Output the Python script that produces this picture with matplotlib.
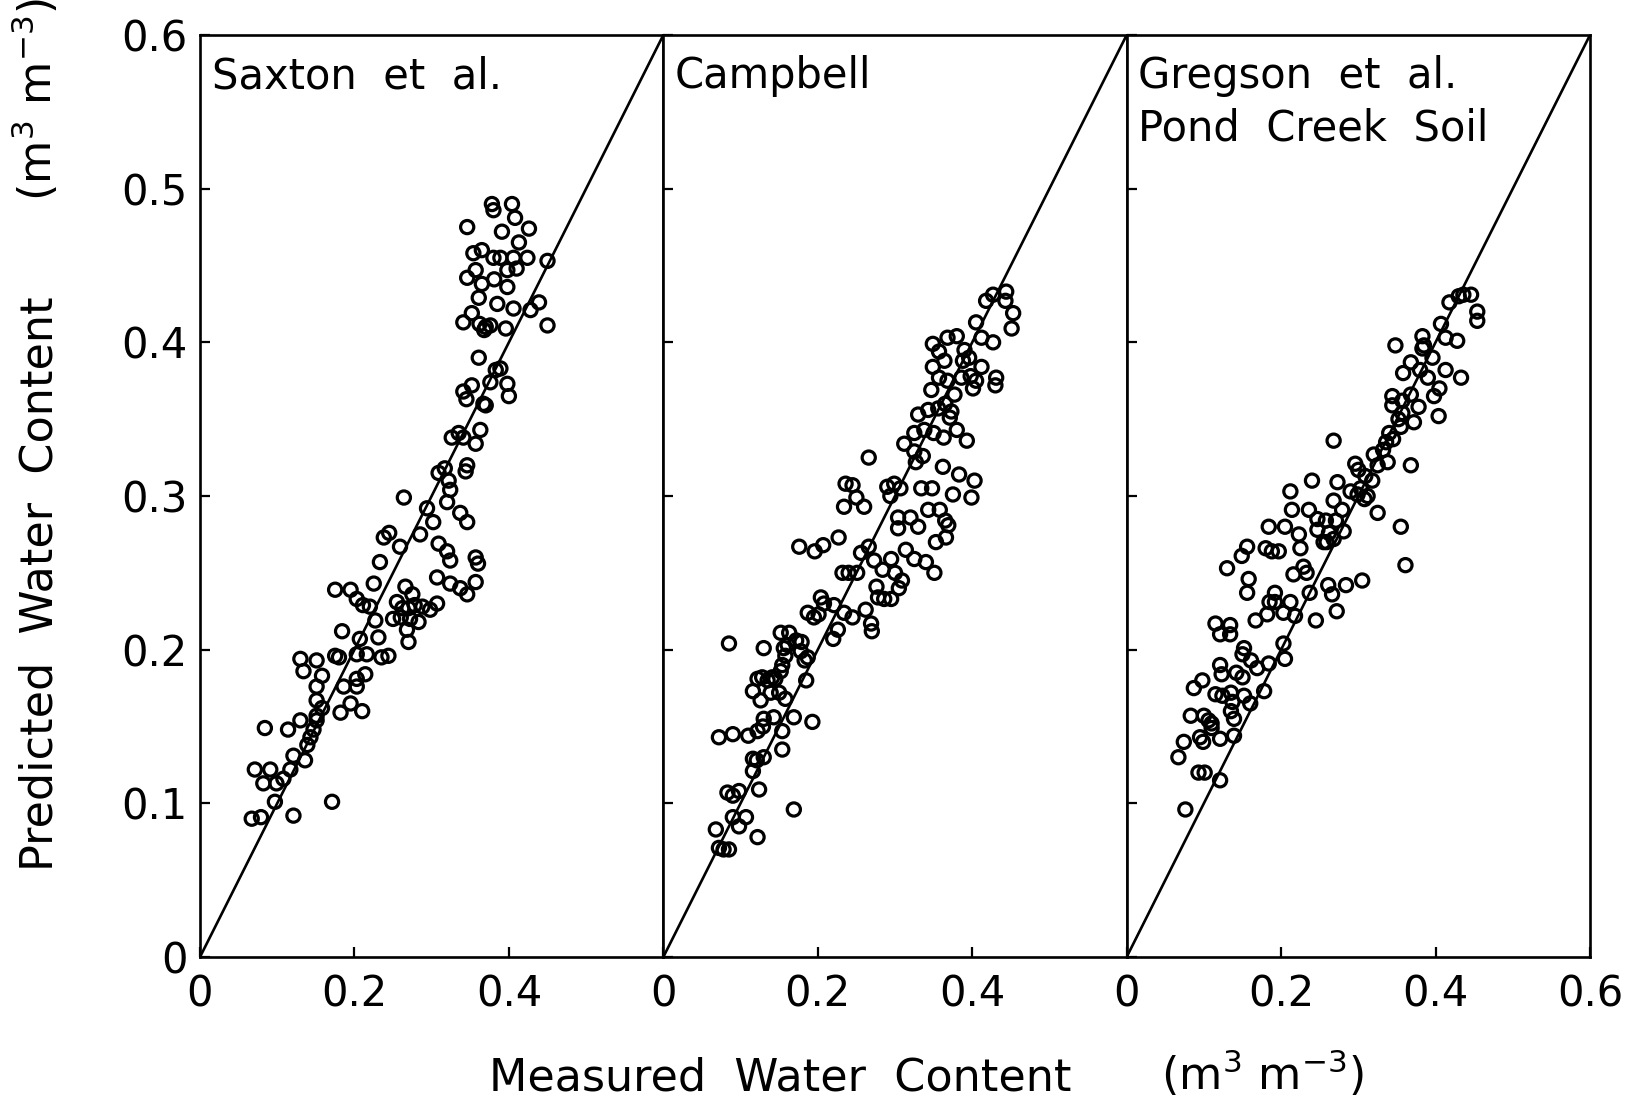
import matplotlib
matplotlib.use("Agg")
import matplotlib.pyplot as plt
import numpy as np

plt.rcParams["font.family"] = ["DejaVu Sans"]

# ---- data: measured vs predicted volumetric water content ----
saxton_measured = [
    0.378, 0.380, 0.404, 0.346, 0.408, 0.391, 0.426, 0.413, 0.354, 0.365, 0.380, 0.389,
    0.406, 0.424, 0.450, 0.398, 0.410, 0.346, 0.357, 0.365, 0.381, 0.398, 0.361, 0.385,
    0.406, 0.428, 0.439, 0.341, 0.352, 0.362, 0.370, 0.376, 0.368, 0.396, 0.450,
    0.361, 0.383, 0.389, 0.376, 0.352, 0.398, 0.400, 0.341, 0.345, 0.367, 0.370, 0.335,
    0.341, 0.326, 0.363, 0.357, 0.346, 0.344, 0.309, 0.317, 0.322, 0.324, 0.264, 0.294,
    0.320, 0.337, 0.346, 0.302, 0.238, 0.245, 0.259, 0.285, 0.309, 0.320, 0.324, 0.233,
    0.357, 0.360,
    0.266, 0.275, 0.307, 0.324, 0.337, 0.346, 0.357, 0.255, 0.262, 0.270, 0.278, 0.288,
    0.298, 0.307, 0.250, 0.260, 0.272, 0.283, 0.268, 0.270,
    0.225, 0.175, 0.195, 0.203, 0.211, 0.220, 0.227, 0.184, 0.207, 0.231, 0.175, 0.180,
    0.203, 0.216, 0.235, 0.244, 0.130, 0.151, 0.134, 0.158, 0.203, 0.214, 0.203, 0.151,
    0.186, 0.195, 0.210, 0.182, 0.151, 0.158, 0.151, 0.130, 0.151, 0.147, 0.143, 0.139,
    0.084, 0.114, 0.121, 0.136, 0.071, 0.091, 0.082, 0.099, 0.108, 0.117, 0.097, 0.171,
    0.067, 0.079, 0.121,
]
saxton_predicted = [
    0.490, 0.486, 0.490, 0.475, 0.481, 0.472, 0.474, 0.465, 0.458, 0.460, 0.455, 0.455,
    0.455, 0.455, 0.453, 0.447, 0.448, 0.442, 0.447, 0.438, 0.441, 0.436, 0.429, 0.425,
    0.422, 0.421, 0.426, 0.413, 0.419, 0.412, 0.410, 0.411, 0.408, 0.409, 0.411,
    0.390, 0.382, 0.383, 0.374, 0.372, 0.373, 0.365, 0.368, 0.363, 0.360, 0.359, 0.341,
    0.338, 0.338, 0.343, 0.334, 0.320, 0.316, 0.315, 0.318, 0.310, 0.304, 0.299, 0.292,
    0.296, 0.289, 0.283, 0.283, 0.273, 0.276, 0.267, 0.275, 0.269, 0.264, 0.258, 0.257,
    0.260, 0.256,
    0.241, 0.236, 0.247, 0.243, 0.240, 0.236, 0.244, 0.231, 0.227, 0.227, 0.229, 0.228,
    0.226, 0.230, 0.220, 0.221, 0.220, 0.218, 0.213, 0.205,
    0.243, 0.239, 0.239, 0.233, 0.229, 0.228, 0.219, 0.212, 0.207, 0.208, 0.196, 0.195,
    0.197, 0.197, 0.195, 0.196, 0.194, 0.193, 0.186, 0.183, 0.181, 0.184, 0.176, 0.176,
    0.176, 0.165, 0.160, 0.159, 0.167, 0.162, 0.157, 0.154, 0.154, 0.148, 0.143, 0.138,
    0.149, 0.148, 0.131, 0.128, 0.122, 0.122, 0.113, 0.113, 0.116, 0.122, 0.101, 0.101,
    0.090, 0.091, 0.092,
]

campbell_measured = [
    0.418, 0.427, 0.444, 0.443, 0.453, 0.451, 0.405, 0.412, 0.427, 0.349, 0.368, 0.380,
    0.357, 0.390, 0.364, 0.349, 0.388, 0.396, 0.412, 0.398, 0.386, 0.431, 0.430, 0.405,
    0.401, 0.347, 0.357, 0.368, 0.377, 0.330, 0.343, 0.356, 0.365, 0.373, 0.371, 0.338,
    0.350, 0.325, 0.380, 0.393, 0.363, 0.312, 0.325, 0.336, 0.327, 0.266, 0.362, 0.383,
    0.403, 0.236, 0.245, 0.250, 0.234, 0.260, 0.290, 0.299, 0.307, 0.294, 0.334, 0.348,
    0.375, 0.399, 0.343, 0.358, 0.365, 0.369, 0.304, 0.320, 0.330, 0.304, 0.353, 0.366,
    0.227, 0.176, 0.196, 0.207, 0.256, 0.266, 0.273, 0.295, 0.314, 0.325, 0.340, 0.351,
    0.284, 0.300, 0.305, 0.309, 0.276, 0.278, 0.286, 0.295, 0.232, 0.240, 0.251, 0.204,
    0.208, 0.221, 0.187, 0.195, 0.201, 0.234, 0.245, 0.262, 0.269, 0.270, 0.226, 0.220,
    0.152, 0.163, 0.172, 0.161, 0.179, 0.085, 0.130, 0.156, 0.158, 0.178, 0.187, 0.183,
    0.154, 0.152, 0.185, 0.128, 0.141, 0.122, 0.135, 0.145, 0.116, 0.126, 0.139, 0.150,
    0.158, 0.130, 0.143, 0.169, 0.193, 0.154, 0.072, 0.090, 0.110, 0.122, 0.129, 0.154,
    0.116, 0.121, 0.130, 0.116, 0.083, 0.098, 0.124, 0.090, 0.169, 0.090, 0.107, 0.098,
    0.068, 0.122, 0.072, 0.085, 0.078,
]
campbell_predicted = [
    0.427, 0.431, 0.433, 0.427, 0.419, 0.409, 0.413, 0.403, 0.400, 0.399, 0.403, 0.404,
    0.394, 0.395, 0.388, 0.384, 0.388, 0.390, 0.384, 0.378, 0.377, 0.377, 0.372, 0.375,
    0.370, 0.369, 0.377, 0.375, 0.366, 0.353, 0.356, 0.357, 0.360, 0.355, 0.351, 0.343,
    0.341, 0.341, 0.343, 0.336, 0.338, 0.334, 0.329, 0.326, 0.322, 0.325, 0.319, 0.314,
    0.310, 0.308, 0.307, 0.299, 0.293, 0.293, 0.306, 0.308, 0.305, 0.300, 0.305, 0.305,
    0.301, 0.299, 0.291, 0.291, 0.284, 0.281, 0.286, 0.286, 0.280, 0.279, 0.270, 0.273,
    0.273, 0.267, 0.264, 0.268, 0.263, 0.267, 0.258, 0.259, 0.265, 0.259, 0.257, 0.250,
    0.252, 0.250, 0.240, 0.245, 0.241, 0.234, 0.233, 0.233, 0.250, 0.250, 0.250, 0.234,
    0.230, 0.229, 0.224, 0.221, 0.223, 0.224, 0.221, 0.226, 0.217, 0.212, 0.213, 0.207,
    0.211, 0.211, 0.206, 0.203, 0.205, 0.204, 0.201, 0.201, 0.196, 0.199, 0.195, 0.193,
    0.190, 0.186, 0.180, 0.182, 0.182, 0.181, 0.180, 0.181, 0.173, 0.167, 0.172, 0.172,
    0.168, 0.155, 0.156, 0.156, 0.153, 0.147, 0.143, 0.145, 0.144, 0.147, 0.150, 0.135,
    0.129, 0.128, 0.130, 0.121, 0.107, 0.108, 0.109, 0.105, 0.096, 0.091, 0.091, 0.085,
    0.083, 0.078, 0.071, 0.070, 0.070,
]

gregson_measured = [
    0.418, 0.430, 0.436, 0.446, 0.454, 0.454, 0.407, 0.413, 0.428, 0.383, 0.383, 0.348,
    0.385, 0.396, 0.368, 0.358, 0.380, 0.413, 0.433, 0.390, 0.405, 0.398, 0.344, 0.344,
    0.357, 0.368, 0.378, 0.404, 0.372, 0.352, 0.357, 0.340, 0.336, 0.332, 0.345, 0.355,
    0.325, 0.320, 0.338, 0.368, 0.268, 0.296, 0.300, 0.309, 0.318, 0.290, 0.299, 0.312,
    0.308, 0.303, 0.273, 0.240, 0.212, 0.325, 0.355, 0.361, 0.268, 0.214, 0.236, 0.279,
    0.247, 0.258, 0.271, 0.184, 0.205, 0.223, 0.247, 0.262, 0.281, 0.255, 0.259, 0.268,
    0.225, 0.156, 0.180, 0.188, 0.197, 0.149, 0.130, 0.229, 0.233, 0.216, 0.158, 0.305,
    0.156, 0.192, 0.237, 0.261, 0.266, 0.284, 0.185, 0.192, 0.212, 0.182, 0.203, 0.218,
    0.167, 0.245, 0.272, 0.115, 0.134, 0.121, 0.134, 0.203, 0.205, 0.152, 0.150, 0.161,
    0.169, 0.184, 0.121, 0.123, 0.142, 0.150, 0.098, 0.087, 0.115, 0.124, 0.135, 0.137,
    0.152, 0.160, 0.178, 0.083, 0.100, 0.110, 0.135, 0.139, 0.106, 0.110, 0.095, 0.099,
    0.121, 0.139, 0.074, 0.067, 0.093, 0.101, 0.121, 0.076,
]
gregson_predicted = [
    0.426, 0.430, 0.431, 0.431, 0.420, 0.414, 0.412, 0.403, 0.401, 0.404, 0.396, 0.398,
    0.398, 0.390, 0.387, 0.380, 0.382, 0.382, 0.377, 0.377, 0.370, 0.365, 0.365, 0.359,
    0.362, 0.366, 0.358, 0.352, 0.348, 0.350, 0.354, 0.341, 0.335, 0.330, 0.337, 0.345,
    0.320, 0.327, 0.322, 0.320, 0.336, 0.321, 0.317, 0.313, 0.310, 0.303, 0.301, 0.300,
    0.298, 0.305, 0.309, 0.310, 0.303, 0.289, 0.280, 0.255, 0.297, 0.291, 0.291, 0.291,
    0.285, 0.284, 0.284, 0.280, 0.280, 0.275, 0.278, 0.276, 0.277, 0.270, 0.270, 0.272,
    0.266, 0.267, 0.266, 0.264, 0.264, 0.261, 0.253, 0.254, 0.250, 0.249, 0.246, 0.245,
    0.237, 0.237, 0.237, 0.242, 0.236, 0.242, 0.231, 0.231, 0.231, 0.223, 0.224, 0.222,
    0.219, 0.219, 0.225, 0.217, 0.216, 0.210, 0.210, 0.204, 0.194, 0.201, 0.197, 0.193,
    0.188, 0.191, 0.190, 0.184, 0.185, 0.182, 0.180, 0.175, 0.171, 0.170, 0.172, 0.166,
    0.170, 0.165, 0.173, 0.157, 0.157, 0.152, 0.160, 0.155, 0.154, 0.149, 0.143, 0.140,
    0.142, 0.144, 0.140, 0.130, 0.120, 0.120, 0.115, 0.096,
]

panel_titles = ["Saxton  et  al.", "Campbell", "Gregson  et  al.\nPond  Creek  Soil"]
panels = [
    (saxton_measured, saxton_predicted),
    (campbell_measured, campbell_predicted),
    (gregson_measured, gregson_predicted),
]
axis_limit = 0.6
x_ticks = [0, 0.2, 0.4, 0.6]
x_tick_labels = ["0", "0.2", "0.4", "0.6"]
y_ticks = [0, 0.1, 0.2, 0.3, 0.4, 0.5, 0.6]
y_tick_labels = ["0", "0.1", "0.2", "0.3", "0.4", "0.5", "0.6"]

W, H = 1649, 1105
fig = plt.figure(figsize=(W / 100, H / 100), dpi=100)

left_px, right_px = 200, 1590
top_px, bottom_px = 35, 957
panel_w = (right_px - left_px) / 3

TICK_FS = 30
SPINE_LW = 1.9

for i, ((mx, py), title) in enumerate(zip(panels, panel_titles)):
    ax = fig.add_axes([
        (left_px + i * panel_w) / W,
        (H - bottom_px) / H,
        panel_w / W,
        (bottom_px - top_px) / H,
    ])
    ax.set_xlim(0, axis_limit)
    ax.set_ylim(0, axis_limit)

    # 1:1 line
    ax.plot([0, axis_limit], [0, axis_limit], color="black", lw=1.9, zorder=2)
    ax.scatter(mx, py, s=90, facecolors="none", edgecolors="black",
               linewidths=2.3, zorder=3)

    for sp in ax.spines.values():
        sp.set_linewidth(SPINE_LW)

    if i == 2:
        ax.set_xticks(x_ticks)
        ax.set_xticklabels(x_tick_labels)
    else:
        ax.set_xticks(x_ticks[:-1])
        ax.set_xticklabels(x_tick_labels[:-1])
    ax.set_yticks(y_ticks)
    if i == 0:
        ax.set_yticklabels(y_tick_labels)
    else:
        ax.set_yticklabels([])
    ax.tick_params(axis="both", direction="in", length=7, width=1.6,
                   labelsize=TICK_FS, top=False, right=False)
    ax.tick_params(axis="x", pad=12)
    ax.tick_params(axis="y", pad=9)

    ax.text(0.025, 0.978, title, transform=ax.transAxes, ha="left", va="top",
            fontsize=TICK_FS, linespacing=1.3)

LABEL_FS = 32
fig.text(780 / W, 1 - 1078 / H, "Measured  Water  Content", ha="center",
         va="center", fontsize=LABEL_FS)
fig.text(1262 / W, 1 - 1074 / H, "(m$^{3}$ m$^{-3}$)", ha="center",
         va="center", fontsize=LABEL_FS)
fig.text(40 / W, 1 - 584 / H, "Predicted  Water  Content", ha="center",
         va="center", rotation=90, fontsize=LABEL_FS)
fig.text(36 / W, 1 - 100 / H, "(m$^{3}$ m$^{-3}$)", ha="center",
         va="center", rotation=90, fontsize=LABEL_FS)

fig.savefig("out.png", dpi=100)
